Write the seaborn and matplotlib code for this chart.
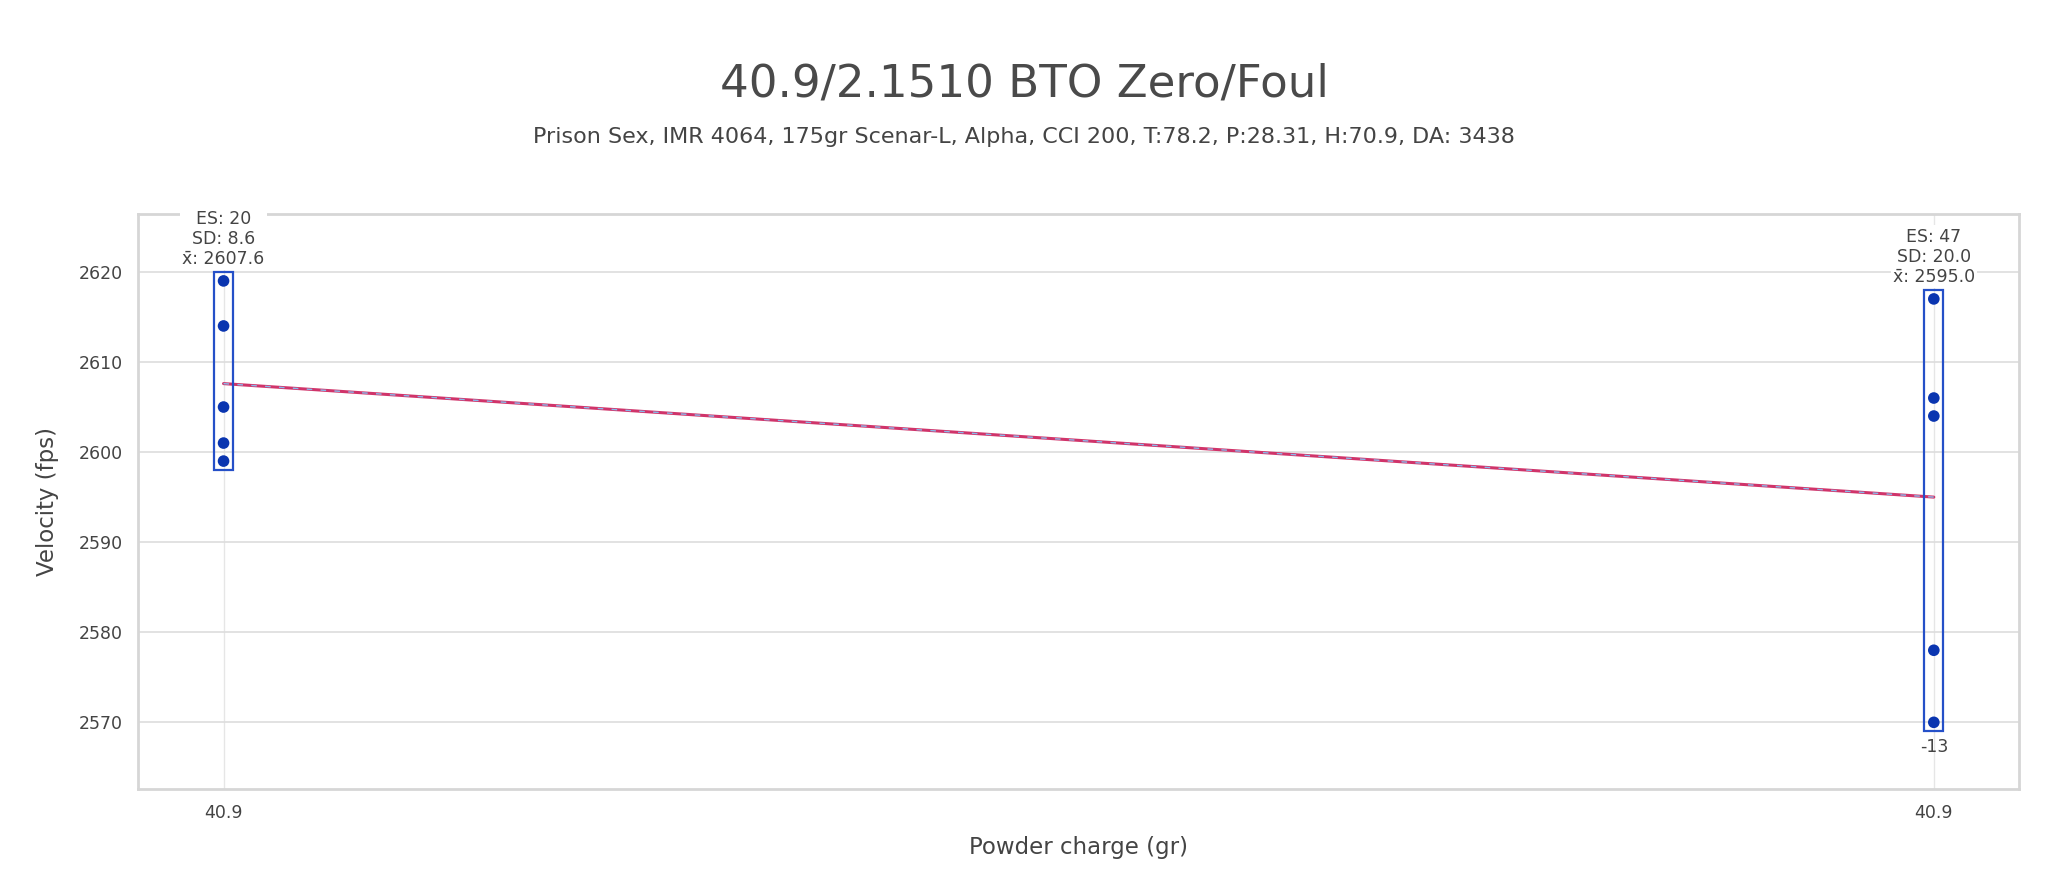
import numpy as np
import pandas as pd
import seaborn as sns
import matplotlib.pyplot as plt
from matplotlib.patches import Rectangle

charges = ["40.9", "40.9"]
group_1 = [2619, 2614, 2605, 2601, 2599]
group_2 = [2617, 2606, 2604, 2578, 2570]
deltas = [None, "-13"]

title = "40.9/2.1510 BTO Zero/Foul"
subtitle = "Prison Sex, IMR 4064, 175gr Scenar-L, Alpha, CCI 200, T:78.2, P:28.31, H:70.9, DA: 3438"

groups = [group_1, group_2]
df = pd.DataFrame({
    "pos": [i for i, g in enumerate(groups) for _ in g],
    "velocity": [v for g in groups for v in g],
})
means = df.groupby("pos")["velocity"].mean().reset_index()

sns.set_theme(style="whitegrid")
plt.rcParams["font.family"] = ["DejaVu Sans"]
text_c = "#444444"

fig = plt.figure(figsize=(20.48, 8.89), dpi=100)
ax = fig.add_axes([0.0674, 0.1125, 0.9186, 0.6465])

# mean line
sns.lineplot(data=means, x="pos", y="velocity", color="#d0346a", lw=2.2, ax=ax, zorder=3)
ax.plot(means["pos"], means["velocity"], color="#8ab8ea", lw=1.0, ls=(0, (4, 6)), zorder=3.1)

sns.scatterplot(data=df, x="pos", y="velocity", color="#0a35b0", s=70, edgecolor="none", ax=ax, zorder=4)

hw = 0.0055
for i, g in enumerate(groups):
    lo, hi = min(g) - 1, max(g) + 1
    ax.add_patch(Rectangle((i - hw, lo), 2 * hw, hi - lo, fill=False,
                           edgecolor="#2550c8", lw=1.6, zorder=4))
    es = max(g) - min(g)
    sd = np.std(g, ddof=1)
    mu = np.mean(g)
    ax.annotate(f"ES: {es}\nSD: {sd:.1f}\nx\u0304: {mu:.1f}", xy=(i, hi), xytext=(0, 3),
                textcoords="offset points", ha="center", va="bottom", fontsize=12.5,
                color=text_c, linespacing=1.15, annotation_clip=False, zorder=5,
                bbox=dict(facecolor="white", edgecolor="none", pad=1.5))
    if deltas[i]:
        ax.annotate(deltas[i], xy=(i, lo), xytext=(0, -5), textcoords="offset points",
                    ha="center", va="top", fontsize=12.5, color=text_c, zorder=5)

ax.set_xlim(-0.05, 1.05)
ax.set_ylim(2562.6, 2626.4)
ax.set_xticks(range(len(charges)))
ax.set_xticklabels(charges)
ax.set_yticks([2570, 2580, 2590, 2600, 2610, 2620])
ax.tick_params(labelsize=12.5, colors=text_c, pad=5)
ax.grid(True, color="#dddddd", lw=1.2)
ax.grid(True, axis="x", color="#e6e6e6", lw=1.0)
for s in ax.spines.values():
    s.set_color("#d6d6d6")
    s.set_linewidth(2)

ax.set_xlabel("Powder charge (gr)", fontsize=16.5, color=text_c, labelpad=10)
ax.set_ylabel("Velocity (fps)", fontsize=16.5, color=text_c, labelpad=14)

fig.text(0.5, 0.905, title, ha="center", va="center", fontsize=32.5, color="#4a4a4a")
fig.text(0.5, 0.846, subtitle, ha="center", va="center", fontsize=16, color=text_c)

fig.savefig("out.png", dpi=100, facecolor="white")
